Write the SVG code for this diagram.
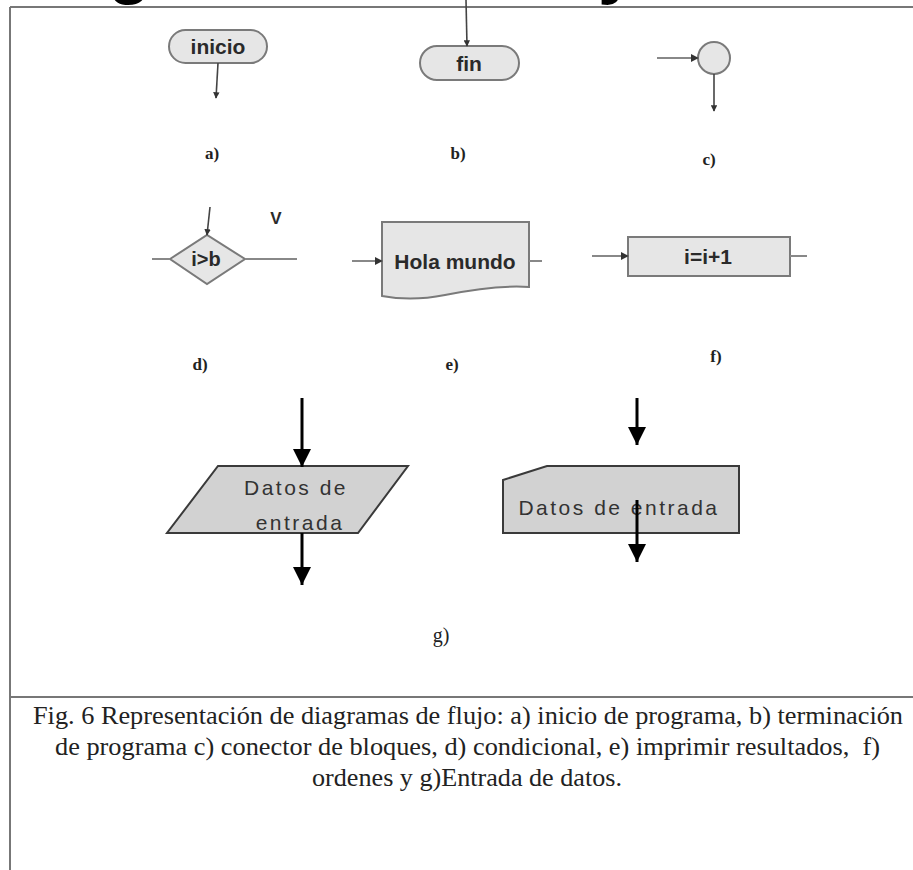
<svg xmlns="http://www.w3.org/2000/svg" width="913" height="870" viewBox="0 0 913 870">
<style>
.frame{stroke:#777;stroke-width:2;fill:none}
.sym{fill:#e6e6e6;stroke:#7a7a7a;stroke-width:2}
.symg{fill:#d2d2d2;stroke:#3a3a3a;stroke-width:2}
.conn{stroke:#444;stroke-width:1.6;fill:none}
.line{stroke:#888;stroke-width:2;fill:none}
.big{stroke:#000;stroke-width:3;fill:none}
.lbl{font-family:"Liberation Sans",Arial,sans-serif;font-weight:bold;fill:#2a2a2a;text-anchor:middle;dominant-baseline:central}
.glbl{font-family:"Liberation Sans",Arial,sans-serif;fill:#333;font-size:21px;letter-spacing:2.5px;text-anchor:middle}
.cap{font-family:"Liberation Serif","Times New Roman",serif;fill:#222;text-anchor:middle}
.caption{font-family:"Liberation Serif","Times New Roman",serif;font-size:25px;fill:#222}
.title{font-family:"Liberation Sans",Arial,sans-serif;font-weight:bold;font-size:70px;fill:#000}
</style>
<defs>
<marker id="sm" viewBox="0 0 10 10" refX="9" refY="5" markerWidth="4" markerHeight="4" orient="auto" markerUnits="strokeWidth"><path d="M0,0 L10,5 L0,10 Z" fill="#333"/></marker>
<marker id="bg" viewBox="0 0 10 10" refX="10" refY="5" markerWidth="6" markerHeight="6" orient="auto" markerUnits="strokeWidth"><path d="M0,0 L10,5 L0,10 Z" fill="#000"/></marker>
</defs>
<rect width="913" height="870" fill="#fff"/>
<text class="title" x="108" y="-10">g</text>
<text class="title" x="598" y="-10">y</text>
<g id="frame">
<line class="frame" x1="10" y1="7" x2="913" y2="7"/>
<line class="frame" x1="10" y1="7" x2="10" y2="870"/>
<line class="frame" x1="10" y1="697" x2="913" y2="697"/>
</g>
<g id="a-inicio">
<rect class="sym" x="169" y="30" width="98" height="33" rx="16.5"/>
<text class="lbl" x="218" y="46" font-size="21">inicio</text>
</g>
<g id="b-fin">
<rect class="sym" x="420" y="46" width="99" height="34" rx="17"/>
<text class="lbl" x="469" y="63" font-size="21">fin</text>
</g>
<g id="c-conector">
<circle class="sym" cx="714" cy="58" r="16"/>
</g>
<g id="d-condicional">
<polygon class="sym" points="170,259 207,235 245,259 207,284"/>
<text class="lbl" x="206" y="259" font-size="20">i&gt;b</text>
<text class="lbl" x="276" y="218" font-size="17">V</text>
</g>
<g id="e-imprimir">
<path class="sym" d="M382,222 H529 V287 C500,285 470,290 445,295 C420,300 398,299 382,296 Z"/>
<text class="lbl" x="455" y="261" font-size="21">Hola mundo</text>
</g>
<g id="f-ordenes">
<rect class="sym" x="628" y="237" width="162" height="39"/>
<text class="lbl" x="708" y="256" font-size="21">i=i+1</text>
</g>
<g id="g-entrada1">
<polygon class="symg" points="218,466 408,466 358,533 167,533"/>
<text class="glbl" x="296" y="495">Datos de</text>
<text class="glbl" x="300" y="530">entrada</text>
</g>
<g id="g-entrada2">
<path class="symg" d="M503,480 L547,466 H739 V533 H503 Z"/>
<text class="glbl" x="619" y="515">Datos de entrada</text>
</g>
<g id="connectors">
<line class="conn" x1="218" y1="63" x2="216" y2="98" marker-end="url(#sm)"/>
<line class="conn" x1="466" y1="0" x2="467" y2="46" marker-end="url(#sm)"/>
<line class="line" x1="657" y1="58" x2="698" y2="58" marker-end="url(#sm)"/>
<line class="conn" x1="714" y1="74" x2="714" y2="111" marker-end="url(#sm)"/>
<line class="conn" x1="210" y1="207" x2="207" y2="235" marker-end="url(#sm)"/>
<line class="line" x1="152" y1="259" x2="170" y2="259"/>
<line class="line" x1="245" y1="259" x2="297" y2="259"/>
<line class="line" x1="352" y1="261" x2="382" y2="261" marker-end="url(#sm)"/>
<line class="line" x1="529" y1="261" x2="542" y2="261"/>
<line class="line" x1="592" y1="256" x2="628" y2="256" marker-end="url(#sm)"/>
<line class="line" x1="790" y1="256" x2="807" y2="256"/>
<line class="big" x1="302" y1="398" x2="302" y2="467" marker-end="url(#bg)"/>
<line class="big" x1="302" y1="533" x2="302" y2="585" marker-end="url(#bg)"/>
<line class="big" x1="637" y1="398" x2="637" y2="445" marker-end="url(#bg)"/>
<line class="big" x1="637" y1="500" x2="637" y2="562" marker-end="url(#bg)"/>
</g>
<g id="labels">
<text class="cap" x="212" y="159" font-size="17" font-weight="bold">a)</text>
<text class="cap" x="458" y="159" font-size="17" font-weight="bold">b)</text>
<text class="cap" x="709" y="165" font-size="17" font-weight="bold">c)</text>
<text class="cap" x="200" y="370" font-size="17" font-weight="bold">d)</text>
<text class="cap" x="452" y="370" font-size="17" font-weight="bold">e)</text>
<text class="cap" x="716" y="362" font-size="17" font-weight="bold">f)</text>
<text class="cap" x="441" y="642" font-size="20">g)</text>
</g>
<g id="caption">
<text class="caption" x="33" y="724" textLength="870" lengthAdjust="spacingAndGlyphs">Fig. 6 Representación de diagramas de flujo: a) inicio de programa, b) terminación</text>
<text class="caption" x="55" y="755" textLength="825" lengthAdjust="spacingAndGlyphs" xml:space="preserve">de programa c) conector de bloques, d) condicional, e) imprimir resultados,  f)</text>
<text class="caption" x="312" y="786" textLength="310" lengthAdjust="spacingAndGlyphs">ordenes y g)Entrada de datos.</text>
</g>
</svg>
